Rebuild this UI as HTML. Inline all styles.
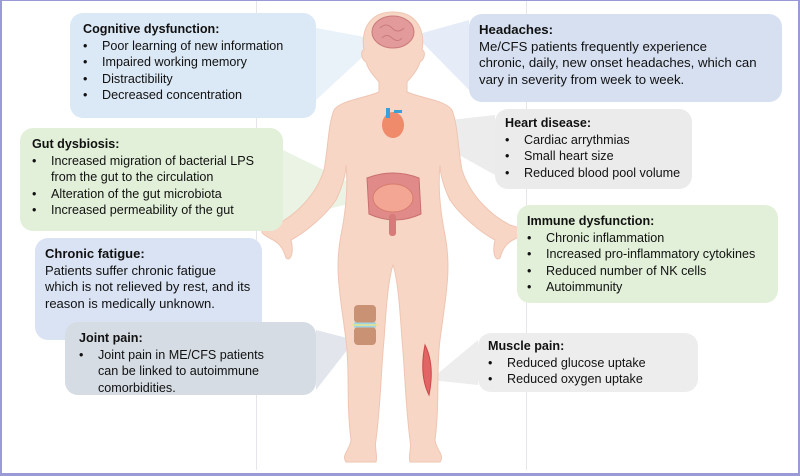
<!DOCTYPE html>
<html><head><meta charset="utf-8"><style>
*{margin:0;padding:0;box-sizing:border-box}
body{width:800px;height:476px;background:#fff;position:relative;overflow:hidden;font-family:"Liberation Sans",Arial,sans-serif;font-size:12.6px;color:#111}
.frame{position:absolute;left:0;top:0;width:800px;height:476px;border:2px solid #9a9ad6;border-top:1px solid #9a9ad6;border-bottom:3px solid #9a9ad6}
.b{position:absolute;border-radius:13px;line-height:16.6px;padding:8px 10px;white-space:nowrap}
.b h{display:block;font-weight:bold}
.b ul{list-style:none}
.b li{position:relative;padding-left:19px}
.b li:before{content:"•";position:absolute;left:0}
.vl{position:absolute;top:0;width:1px;height:470px;background:#e6e6ea}
</style></head><body>
<div class="vl" style="left:256px"></div>
<div class="vl" style="left:526px"></div>
<svg width="800" height="476" style="position:absolute;left:0;top:0">
<polygon points="316,28 316,100 370,50 370,38" fill="#dbe8f5" opacity=".6"/>
<polygon points="469,20 469,90 415,35" fill="#d6e0f1" opacity=".6"/>
<polygon points="495,115 495,175 405,125" fill="#e4e4e4" opacity=".7"/>
<polygon points="283,150 283,220 365,200 365,190" fill="#e2f0d9" opacity=".7"/>
<polygon points="316,330 316,390 355,340" fill="#d5dce4" opacity=".7"/>
<polygon points="478,340 478,385 430,380" fill="#e6e6e6" opacity=".7"/>
<g fill="#f7d6c6" stroke="#efc5b2" stroke-width="1">
<path d="M393,12 C420,12 425,35 422,50 C425,50 426,58 420,62 C417,72 410,78 407,82 L407,92 C420,98 445,100 452,110 C458,125 458,150 462,170 C470,195 490,215 510,225 C520,228 530,230 520,236 C515,240 505,240 500,258 C495,262 492,252 495,240 C480,232 460,215 450,200 C445,190 440,175 440,165 C438,185 440,210 445,235 C452,270 445,300 440,340 C436,370 440,400 435,440 C436,450 445,455 440,462 L410,462 C408,455 412,448 410,440 C405,400 405,370 402,340 C400,310 398,280 393,265 C388,280 386,310 384,340 C381,370 381,400 376,440 C374,448 378,455 376,462 L346,462 C341,455 350,450 351,440 C346,400 350,370 346,340 C341,300 334,270 341,235 C346,210 348,185 346,165 C346,175 341,190 336,200 C326,215 306,232 291,240 C294,252 291,262 286,258 C281,240 271,240 266,236 C256,230 266,228 276,225 C296,215 316,195 324,170 C328,150 328,125 334,110 C341,100 366,98 379,92 L379,82 C376,78 369,72 366,62 C360,58 361,50 364,50 C361,35 366,12 393,12 Z"/>
</g>
<ellipse cx="393" cy="32" rx="21" ry="16" fill="#e39a9a" stroke="#c97a7a"/>
<path d="M380,28 q6,-6 12,0 q6,6 12,0 M382,38 q5,-5 10,0 q6,5 10,0" stroke="#c97a7a" fill="none"/>
<ellipse cx="393" cy="125" rx="11" ry="13" fill="#ef8a6a"/>
<rect x="386" y="108" width="4" height="10" fill="#3aa0dc"/>
<rect x="394" y="110" width="8" height="3" fill="#3aa0dc"/>
<path d="M367,178 q26,-10 52,0 l2,36 q-26,12 -52,0 z" fill="#e08a8a" stroke="#c96f6f"/>
<ellipse cx="393" cy="198" rx="20" ry="14" fill="#f3a693" stroke="#d77d6d"/>
<rect x="389" y="214" width="7" height="22" rx="3" fill="#d97a7a"/>
<rect x="354" y="305" width="22" height="18" rx="4" fill="#c99274"/>
<rect x="354" y="327" width="22" height="18" rx="4" fill="#c99274"/>
<path d="M354,325 h22" stroke="#9ed4e6" stroke-width="5"/>
<path d="M352,325 h26" stroke="#e8e48a" stroke-width="1.5"/>
<path d="M425,345 q10,20 4,50 q-10,-20 -4,-50z" fill="#e26464" stroke="#c94848"/>
</svg>
<div class="b" style="left:70px;top:13px;width:246px;height:105px;background:#dbe8f5;padding-left:13px">
<h>Cognitive dysfunction:</h><ul><li>Poor learning of new information</li><li>Impaired working memory</li><li>Distractibility</li><li>Decreased concentration</li></ul></div>
<div class="b" style="left:469px;top:14px;width:313px;height:88px;background:#d6e0f1;font-size:13.2px">
<h>Headaches:</h>Me/CFS patients frequently experience<br>chronic, daily, new onset headaches, which can<br>vary in severity from week to week.</div>
<div class="b" style="left:495px;top:109px;width:197px;height:80px;background:#ebebeb;padding-top:6px">
<h>Heart disease:</h><ul><li>Cardiac arrythmias</li><li>Small heart size</li><li>Reduced blood pool volume</li></ul></div>
<div class="b" style="left:20px;top:128px;width:263px;height:103px;background:#e2f0d9;padding-left:12px">
<h>Gut dysbiosis:</h><ul><li>Increased migration of bacterial LPS<br>from the gut to the circulation</li><li>Alteration of the gut microbiota</li><li>Increased permeability of the gut</li></ul></div>
<div class="b" style="left:517px;top:205px;width:261px;height:98px;background:#e2f0d9">
<h>Immune dysfunction:</h><ul><li>Chronic inflammation</li><li>Increased pro-inflammatory cytokines</li><li>Reduced number of NK cells</li><li>Autoimmunity</li></ul></div>
<div class="b" style="left:35px;top:238px;width:227px;height:102px;background:#dae3f3;font-size:13px">
<h>Chronic fatigue:</h>Patients suffer chronic fatigue<br>which is not relieved by rest, and its<br>reason is medically unknown.</div>
<div class="b" style="left:65px;top:322px;width:251px;height:73px;background:#d5dce4;padding-left:14px">
<h>Joint pain:</h><ul><li>Joint pain in ME/CFS patients<br>can be linked to autoimmune<br>comorbidities.</li></ul></div>
<div class="b" style="left:478px;top:333px;width:220px;height:59px;background:#ededed;padding-top:5px">
<h>Muscle pain:</h><ul><li>Reduced glucose uptake</li><li>Reduced oxygen uptake</li></ul></div>
<div class="frame"></div>
</body></html>
